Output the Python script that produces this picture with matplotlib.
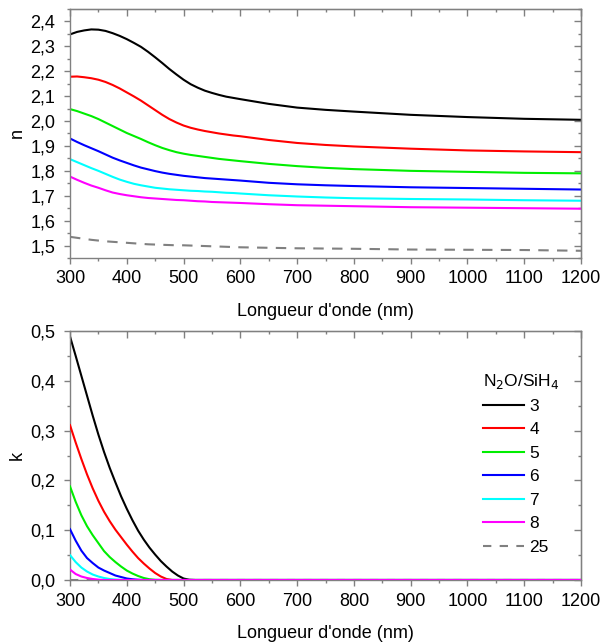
import matplotlib
matplotlib.use("Agg")
import matplotlib.pyplot as plt
from matplotlib.ticker import MultipleLocator, FuncFormatter

plt.rcParams['font.family'] = ['Liberation Sans', 'DejaVu Sans']

# ---------------- data ----------------
wl_n = [300, 312.5, 325, 337.5, 350, 362.5, 375, 387.5, 400, 412.5, 425, 437.5,
        450, 462.5, 475, 487.5, 500, 512.5, 525, 537.5, 550, 562.5, 575, 587.5,
        600, 650, 700, 750, 800, 900, 1000, 1100, 1200]
n_3 = [2.348, 2.358, 2.364, 2.368, 2.367, 2.362, 2.353, 2.342, 2.329, 2.314,
       2.298, 2.278, 2.256, 2.233, 2.209, 2.187, 2.166, 2.148, 2.134, 2.122,
       2.113, 2.105, 2.098, 2.093, 2.088, 2.069, 2.054, 2.045, 2.038, 2.025,
       2.016, 2.009, 2.005]
n_4 = [2.178, 2.179, 2.176, 2.172, 2.166, 2.157, 2.145, 2.131, 2.115, 2.099,
       2.082, 2.063, 2.044, 2.025, 2.008, 1.994, 1.982, 1.973, 1.966, 1.960,
       1.955, 1.950, 1.946, 1.942, 1.939, 1.924, 1.912, 1.904, 1.898, 1.889,
       1.882, 1.878, 1.875]
n_5 = [2.048, 2.040, 2.030, 2.020, 2.008, 1.994, 1.980, 1.966, 1.952, 1.940,
       1.928, 1.915, 1.903, 1.892, 1.883, 1.875, 1.869, 1.864, 1.860, 1.856,
       1.852, 1.848, 1.845, 1.842, 1.839, 1.828, 1.819, 1.812, 1.807, 1.800,
       1.796, 1.792, 1.790]
n_6 = [1.930, 1.916, 1.903, 1.891, 1.879, 1.866, 1.853, 1.842, 1.832, 1.822,
       1.813, 1.806, 1.799, 1.793, 1.788, 1.784, 1.780, 1.777, 1.774, 1.771,
       1.769, 1.767, 1.765, 1.763, 1.761, 1.752, 1.746, 1.742, 1.739, 1.734,
       1.731, 1.728, 1.725]
n_7 = [1.847, 1.835, 1.823, 1.811, 1.800, 1.788, 1.776, 1.765, 1.756, 1.748,
       1.742, 1.737, 1.732, 1.729, 1.726, 1.724, 1.722, 1.720, 1.719, 1.717,
       1.716, 1.714, 1.712, 1.711, 1.709, 1.702, 1.697, 1.693, 1.690, 1.687,
       1.685, 1.682, 1.680]
n_8 = [1.777, 1.764, 1.752, 1.741, 1.732, 1.722, 1.713, 1.707, 1.702, 1.698,
       1.694, 1.691, 1.689, 1.687, 1.685, 1.683, 1.682, 1.680, 1.678, 1.677,
       1.675, 1.674, 1.673, 1.672, 1.671, 1.666, 1.662, 1.660, 1.658, 1.654,
       1.652, 1.650, 1.648]
n_25 = [1.535, 1.531, 1.527, 1.523, 1.520, 1.517, 1.515, 1.513, 1.511, 1.509,
        1.507, 1.505, 1.504, 1.503, 1.502, 1.501, 1.501, 1.500, 1.499, 1.498,
        1.497, 1.496, 1.495, 1.494, 1.493, 1.491, 1.489, 1.488, 1.487, 1.484,
        1.483, 1.482, 1.479]

wl_k = [300, 310, 320, 330, 340, 350, 360, 370, 380, 390, 400, 410, 420, 430,
        440, 450, 460, 470, 480, 490, 500, 510, 520, 600, 700, 800, 900, 1000,
        1100, 1200]
k_3 = [0.489, 0.450, 0.410, 0.370, 0.330, 0.292, 0.257, 0.225, 0.196, 0.168,
       0.143, 0.120, 0.099, 0.081, 0.065, 0.051, 0.038, 0.027, 0.017, 0.009,
       0.003, 0.0005, 0, 0, 0, 0, 0, 0, 0, 0]
k_4 = [0.311, 0.276, 0.243, 0.212, 0.184, 0.159, 0.137, 0.118, 0.101, 0.086,
       0.071, 0.057, 0.044, 0.033, 0.023, 0.014, 0.007, 0.002, 0, 0,
       0, 0, 0, 0, 0, 0, 0, 0, 0, 0]
k_5 = [0.188, 0.157, 0.130, 0.108, 0.090, 0.074, 0.058, 0.046, 0.036, 0.027,
       0.019, 0.013, 0.008, 0.004, 0.0015, 0.0003, 0, 0, 0, 0,
       0, 0, 0, 0, 0, 0, 0, 0, 0, 0]
k_6 = [0.102, 0.079, 0.059, 0.044, 0.034, 0.025, 0.019, 0.014, 0.009, 0.006,
       0.003, 0.0015, 0.0005, 0, 0, 0, 0, 0, 0, 0,
       0, 0, 0, 0, 0, 0, 0, 0, 0, 0]
k_7 = [0.050, 0.036, 0.025, 0.017, 0.011, 0.007, 0.004, 0.002, 0.001, 0.0003,
       0, 0, 0, 0, 0, 0, 0, 0, 0, 0,
       0, 0, 0, 0, 0, 0, 0, 0, 0, 0]
k_8 = [0.021, 0.012, 0.007, 0.004, 0.002, 0.0007, 0, 0, 0, 0,
       0, 0, 0, 0, 0, 0, 0, 0, 0, 0,
       0, 0, 0, 0, 0, 0, 0, 0, 0, 0]
k_25 = [0] * len(wl_k)

labels = ['3', '4', '5', '6', '7', '8', '25']
colors = ['#000000', '#ff0000', '#00ee00', '#0000ff', '#00ffff', '#ff00ff', '#808080']
dashed = [False, False, False, False, False, False, True]
n_series = [n_3, n_4, n_5, n_6, n_7, n_8, n_25]
k_series = [k_3, k_4, k_5, k_6, k_7, k_8, k_25]

# ---------------- figure ----------------
W, H = 602, 642
fig = plt.figure(figsize=(W / 100, H / 100), dpi=100)

def axrect(l, t, r, b):
    return [l / W, 1 - b / H, (r - l) / W, (b - t) / H]

ax1 = fig.add_axes(axrect(70, 9, 581, 258))
ax2 = fig.add_axes(axrect(70, 331, 581, 580))

spine_col = '#808080'
FS = 13
comma = FuncFormatter(lambda v, p: ('%.1f' % v).replace('.', ','))

def style(ax, ymaj, ymin):
    ax.set_xlim(300, 1200)
    ax.xaxis.set_major_locator(MultipleLocator(100))
    ax.xaxis.set_minor_locator(MultipleLocator(50))
    ax.yaxis.set_major_locator(MultipleLocator(ymaj))
    ax.yaxis.set_minor_locator(MultipleLocator(ymin))
    ax.yaxis.set_major_formatter(comma)
    for s in ax.spines.values():
        s.set_color(spine_col)
        s.set_linewidth(1.0)
    ax.tick_params(which='both', direction='out', color=spine_col,
                   labelsize=FS, labelcolor='black', width=1.0)
    ax.tick_params(which='major', length=4.5)
    ax.tick_params(which='minor', length=2.5)
    ax.tick_params(axis='x', which='major', pad=4.5)
    ax.tick_params(axis='y', which='major', pad=6)
    ax.set_xlabel("Longueur d'onde (nm)", fontsize=FS, labelpad=11)
    sx = ax.secondary_xaxis('top')
    sy = ax.secondary_yaxis('right')
    sx.xaxis.set_major_locator(MultipleLocator(100))
    sx.xaxis.set_minor_locator(MultipleLocator(50))
    sy.yaxis.set_major_locator(MultipleLocator(ymaj))
    sy.yaxis.set_minor_locator(MultipleLocator(ymin))
    for sa in (sx, sy):
        sa.tick_params(which='both', direction='in', color=spine_col,
                       labelleft=False, labelright=False, labeltop=False,
                       labelbottom=False, width=1.0)
        sa.tick_params(which='major', length=5)
        sa.tick_params(which='minor', length=2.5)

# top panel: n
for y, c, d in zip(n_series, colors, dashed):
    if d:
        ax1.plot(wl_n, y, color=c, lw=1.5, dashes=(5, 4))
    else:
        ax1.plot(wl_n, y, color=c, lw=1.5)
ax1.set_ylim(1.45, 2.45)
style(ax1, 0.1, 0.05)
ax1.set_ylabel('n', fontsize=FS, labelpad=3)

# bottom panel: k
lines = {}
for i in [6, 0, 1, 2, 3, 4, 5]:
    y = k_series[i]
    if dashed[i]:
        ln, = ax2.plot(wl_k, y, color=colors[i], lw=1.5, dashes=(4, 4), zorder=1)
    else:
        ln, = ax2.plot(wl_k, y, color=colors[i], lw=1.5, zorder=2 + i)
    lines[i] = ln
ax2.set_ylim(0, 0.5)
style(ax2, 0.1, 0.05)
ax2.set_ylabel('k', fontsize=FS, labelpad=3)

leg = ax2.legend([lines[i] for i in range(7)], labels,
                 title='N$_2$O/SiH$_4$', frameon=False, fontsize=12.5,
                 title_fontsize=12.5, loc='upper left',
                 bbox_to_anchor=(0.777, 0.9),
                 handlelength=2.4, handletextpad=0.3, labelspacing=0.48,
                 alignment='left')

fig.savefig('out.png', dpi=100)
